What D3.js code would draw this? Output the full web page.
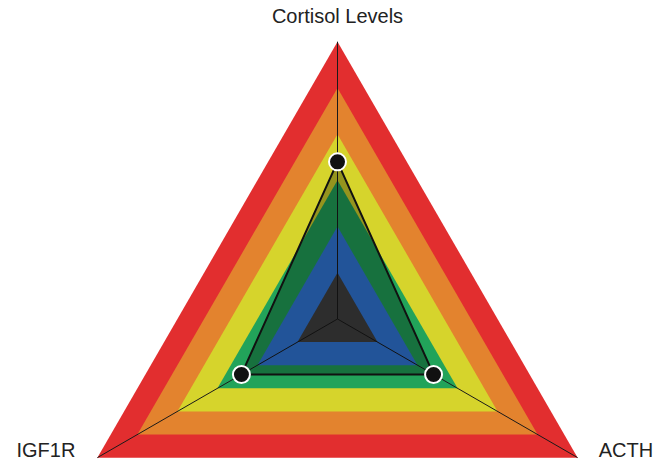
<!DOCTYPE html>
<html>
<head>
<meta charset="utf-8">
<script src="https://cdn.jsdelivr.net/npm/d3@7"></script>
<style>
  body { margin: 0; background: #fff; }
  text { font-family: "Liberation Sans", Arial, sans-serif; fill: #222; }
</style>
</head>
<body>
<div id="chart"></div>
<script>
  const axes = ["Cortisol Levels", "ACTH", "IGF1R"];
  const values = [17, 12, 12];
  const levels = [30, 25, 20, 15, 10, 5];
  const bandColors = ["#e22e2f", "#e3832e", "#d6d42c", "#22a35a", "#3179dc", "#414141"];

  const width = 664, height = 467;
  const cx = 337.5, cy = 319, radius = 277.3;

  const svg = d3.select("#chart").append("svg")
    .attr("width", width)
    .attr("height", height);

  const r = d3.scaleLinear().domain([0, 30]).range([0, radius]);
  const angle = i => -Math.PI / 2 + i * 2 * Math.PI / axes.length;
  const pt = (i, v) => [cx + r(v) * Math.cos(angle(i)), cy + r(v) * Math.sin(angle(i))];

  // level bands, outer first
  svg.append("g").selectAll("polygon")
    .data(levels)
    .enter().append("polygon")
    .attr("points", lv => axes.map((a, i) => pt(i, lv).join(",")).join(" "))
    .attr("fill", (lv, i) => bandColors[i]);

  // axis lines
  svg.append("g").selectAll("line")
    .data(axes)
    .enter().append("line")
    .attr("x1", cx).attr("y1", cy)
    .attr("x2", (d, i) => pt(i, 30)[0])
    .attr("y2", (d, i) => pt(i, 30)[1])
    .attr("stroke", "#1a1a1a")
    .attr("stroke-width", 1);

  // data area
  svg.append("polygon")
    .attr("points", values.map((v, i) => pt(i, v).join(",")).join(" "))
    .attr("fill", "rgba(0,0,0,0.3)")
    .attr("stroke", "#111")
    .attr("stroke-width", 2);

  svg.append("g").selectAll("circle")
    .data(values)
    .enter().append("circle")
    .attr("cx", (v, i) => pt(i, v)[0])
    .attr("cy", (v, i) => pt(i, v)[1])
    .attr("r", 8.5)
    .attr("fill", "#111")
    .attr("stroke", "#fff")
    .attr("stroke-width", 2);

  // labels
  const labelPos = [
    { dx: 0, dy: -19, anchor: "middle" },
    { dx: 21, dy: -1, anchor: "start" },
    { dx: -22, dy: -1, anchor: "end" }
  ];
  svg.append("g").selectAll("text")
    .data(axes)
    .enter().append("text")
    .attr("x", (d, i) => pt(i, 30)[0] + labelPos[i].dx)
    .attr("y", (d, i) => pt(i, 30)[1] + labelPos[i].dy)
    .attr("text-anchor", (d, i) => labelPos[i].anchor)
    .attr("font-size", 20)
    .text(d => d);
</script>
</body>
</html>
